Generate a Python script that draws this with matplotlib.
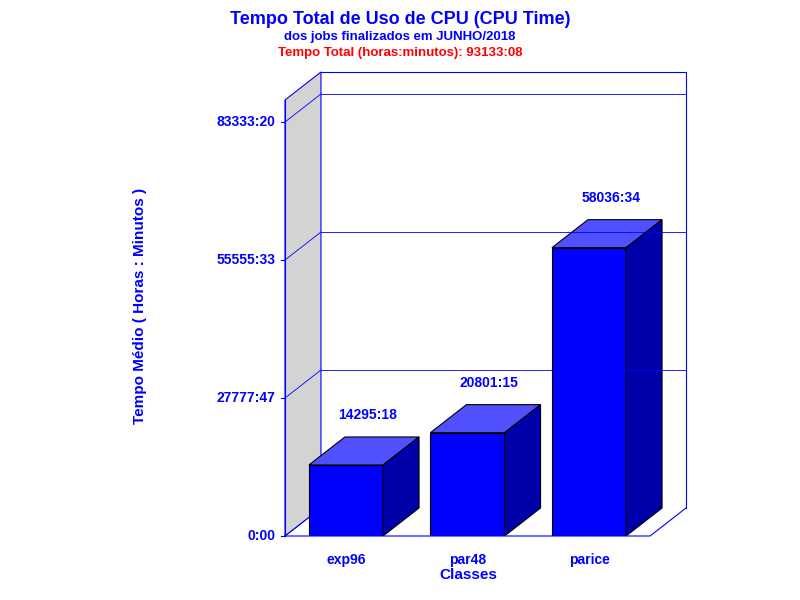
import matplotlib
matplotlib.use("Agg")
import matplotlib.pyplot as plt
from matplotlib.patches import Polygon

categories = ["exp96", "par48", "parice"]
values = [14295.30, 20801.25, 58036.57]          # hours
value_labels = ["14295:18", "20801:15", "58036:34"]
tick_values = [0, 27777.78, 55555.55, 83333.33]
tick_labels = ["0:00", "27777:47", "55555:33", "83333:20"]

plt.rcParams["font.family"] = "Liberation Sans"
BLUE = "#0000FF"
fig = plt.figure(figsize=(8, 6), dpi=100)
ax = fig.add_axes([0.35625, 0.10667, 0.50125, 0.77333])
x0, x1 = -0.502, 2.502
dx, dy = 0.296, 5636
top = 93398
ax.set_xlim(x0, x1 + dx)
ax.set_ylim(0, top)
ax.axis("off")

# left wall
ax.add_patch(Polygon([(x0, 0), (x0 + dx, dy), (x0 + dx, top), (x0, top - dy)],
                     closed=True, facecolor="#D3D3D3", edgecolor=BLUE, lw=0.8, clip_on=False))
# back wall frame
ax.plot([x0 + dx, x1 + dx, x1 + dx], [top, top, dy], color=BLUE, lw=0.8, clip_on=False)
ax.plot([x0, x1, x1 + dx], [0, 0, dy], color=BLUE, lw=0.8, clip_on=False)
ax.plot([x0, x0], [0, top - dy], color=BLUE, lw=0.8, clip_on=False)
for t, lab in zip(tick_values, tick_labels):
    ax.plot([x0, x0 + dx], [t, t + dy], color=BLUE, lw=0.6, clip_on=False)
    if t > 0:
        ax.plot([x0 + dx, x1 + dx], [t + dy, t + dy], color=BLUE, lw=0.6, clip_on=False)
    ax.plot([x0 - 0.03, x0], [t, t], color=BLUE, lw=0.8, clip_on=False)
    ax.text(x0 - 0.08, t, lab, ha="right", va="center", color=BLUE,
            fontsize=10, fontweight="bold")

w = 0.61
for i, (v, lab, cat) in enumerate(zip(values, value_labels, categories)):
    l, r = i - w / 2, i + w / 2
    ax.add_patch(Polygon([(l, 0), (r, 0), (r, v), (l, v)], closed=True,
                         facecolor="#0000FF", edgecolor="black", lw=0.8))
    ax.add_patch(Polygon([(l, v), (r, v), (r + dx, v + dy), (l + dx, v + dy)], closed=True,
                         facecolor="#5050FF", edgecolor="black", lw=0.8))
    ax.add_patch(Polygon([(r, 0), (r + dx, dy), (r + dx, v + dy), (r, v)], closed=True,
                         facecolor="#0000AA", edgecolor="black", lw=0.8))
    ax.text(i + dx * 0.6, v + dy + 3000, lab, ha="center", va="bottom", color=BLUE,
            fontsize=10, fontweight="bold")
    ax.text(i, -3500, cat, ha="center", va="top", color=BLUE, fontsize=10, fontweight="bold")

fig.text(0.585, 0.03, "Classes", ha="center", va="bottom", color=BLUE, fontsize=11, fontweight="bold")
fig.text(0.175, 0.49, "Tempo Médio ( Horas : Minutos )", rotation=90, ha="center", va="center",
         color=BLUE, fontsize=11, fontweight="bold")
fig.text(0.5, 0.982, "Tempo Total de Uso de CPU (CPU Time)", ha="center", va="top",
         color=BLUE, fontsize=13, fontweight="bold")
fig.text(0.5, 0.948, "dos jobs finalizados em JUNHO/2018", ha="center", va="top",
         color=BLUE, fontsize=9.5, fontweight="bold")
fig.text(0.5, 0.922, "Tempo Total (horas:minutos): 93133:08", ha="center", va="top",
         color="#FF0000", fontsize=9.5, fontweight="bold")
fig.savefig("out.png", dpi=100, facecolor="white")
